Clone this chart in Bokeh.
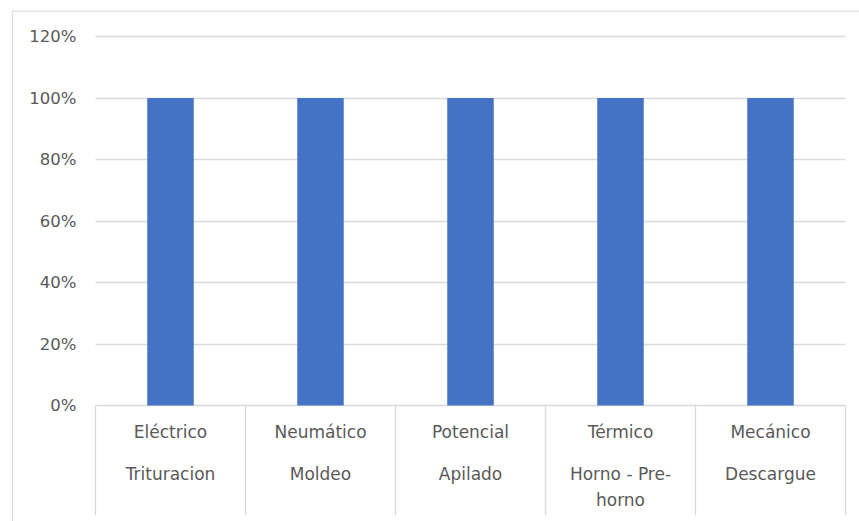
from bokeh.plotting import figure
from bokeh.models import Range1d, FixedTicker, NumeralTickFormatter, ColumnDataSource, Span
from bokeh.core.properties import value
from bokeh.embed import file_html
from bokeh.resources import INLINE

# ---- data ----
categories = ["Eléctrico", "Neumático", "Potencial", "Térmico", "Mecánico"]
subcategories = ["Trituracion", "Moldeo", "Apilado", "Horno - Pre-\nhorno", "Descargue"]
values = [1.0, 1.0, 1.0, 1.0, 1.0]
y_ticks = [0, 0.2, 0.4, 0.6, 0.8, 1.0, 1.2]

FONT = "DejaVu Sans"
GRAY = "#d9d9d9"
TEXT = "#595959"

n = len(categories)
xpos = [i + 0.5 for i in range(n)]          # category centres on the scale
edges = list(range(n + 1))                   # category boundaries

xr = Range1d(-84 / 150, n + 14 / 150)
yr = Range1d(-0.3772, 1.2846)

p = figure(width=859, height=521, x_range=xr, y_range=yr,
           output_backend="svg", toolbar_location=None,
           min_border_left=11, min_border_right=0, min_border_top=10, min_border_bottom=0)
p.outline_line_color = None
p.xaxis.visible = False
p.xgrid.visible = False

yax = p.yaxis[0]
yax.ticker = FixedTicker(ticks=y_ticks)
yax.formatter = NumeralTickFormatter(format="0%")
yax.axis_line_color = None
yax.major_tick_line_color = None
yax.minor_tick_line_color = None
yax.major_tick_in = 0
yax.major_tick_out = 0
yax.major_label_standoff = -65
yax.major_label_text_font = FONT
yax.major_label_text_font_size = "16.5px"
yax.major_label_text_color = TEXT

p.ygrid.ticker = FixedTicker(ticks=y_ticks)
p.ygrid.grid_line_color = GRAY
p.ygrid.grid_line_width = 1.3
p.ygrid.bounds = (0, 1.2)
p.ygrid.cross_bounds = (0, n)

src = ColumnDataSource(dict(x=xpos, cat=categories, sub=subcategories, val=values))
p.vbar(x="x", top="val", bottom=0, width=0.31, source=src, fill_color="#4472C4", line_color=None)

# category box separators
p.segment(x0=edges, y0=[0] * len(edges), x1=edges, y1=[-0.357] * len(edges),
          line_color=GRAY, line_width=1.3)

# category labels (two levels)
p.text(x="x", y=-0.053, text="cat", source=src, text_align="center", text_baseline="top",
       text_font=value(FONT), text_font_size="17px", text_color=TEXT, text_line_height=1.32)
p.text(x="x", y=-0.1895, text="sub", source=src, text_align="center", text_baseline="top",
       text_font=value(FONT), text_font_size="17px", text_color=TEXT, text_line_height=1.32)

# chart-area border (left and top edges; right/bottom fall outside the picture)
p.add_layout(Span(location=xr.start + 0.7 / 150, dimension="height", line_color=GRAY, line_width=1.3))
p.add_layout(Span(location=yr.end - 0.7 / 307.5, dimension="width", line_color=GRAY, line_width=1.3))

open("out.html", "w").write(file_html(p, INLINE))
